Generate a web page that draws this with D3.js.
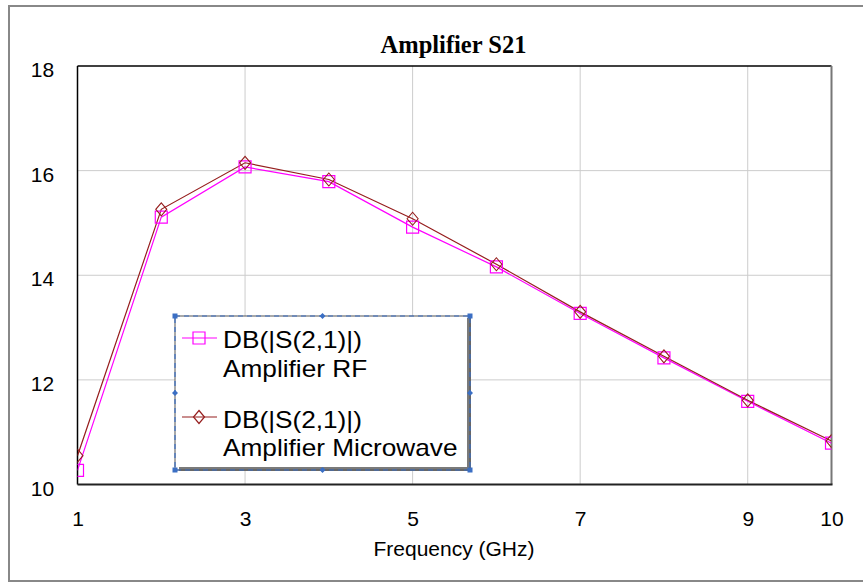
<!DOCTYPE html>
<html>
<head>
<meta charset="utf-8">
<script src="https://cdn.jsdelivr.net/npm/d3@7"></script>
<style>
  body { margin: 0; background: #fff; }
</style>
</head>
<body>
<div id="chart"></div>
<script>

const freqs = [1, 2, 3, 4, 5, 6, 7, 8, 9, 10];
const rfData = [10.27, 15.11, 16.07, 15.79, 14.92, 14.16, 13.27, 12.42, 11.59, 10.79];
const mwData = [10.55, 15.26, 16.15, 15.83, 15.08, 14.21, 13.30, 12.45, 11.61, 10.83];

const xTicks = [1, 3, 5, 7, 9, 10];
const yTicks = [10, 12, 14, 16, 18];
const legendLabels = [
  ['DB(|S(2,1)|)', 'Amplifier RF'],
  ['DB(|S(2,1)|)', 'Amplifier Microwave']
];

const width = 863;
const height = 582;
const plotLeft = 77.5, plotRight = 831.5, plotTop = 66, plotBottom = 484.5;
const rfColor = '#ff00ff';
const mwColor = '#961e1e';
const handleColor = '#3b6fc4';

let svg = d3.select('#chart').append('svg')
  .attr('width', width)
  .attr('height', height);

// outer frame (runs off the right edge)
svg.append('rect')
  .attr('x', 9).attr('y', 6)
  .attr('width', 900).attr('height', 575)
  .attr('fill', 'none')
  .attr('stroke', '#888')
  .attr('stroke-width', 2);

let x = d3.scaleLinear().domain([1, 10]).range([plotLeft, plotRight]);
let y = d3.scaleLinear().domain([10, 18]).range([plotBottom, plotTop]);

// grid
svg.append('g').selectAll('line')
  .data(xTicks.slice(1, -1))
  .join('line')
  .attr('x1', d => x(d)).attr('x2', d => x(d))
  .attr('y1', plotTop).attr('y2', plotBottom)
  .attr('stroke', '#cccccc').attr('stroke-width', 1);

svg.append('g').selectAll('line')
  .data(yTicks.slice(1, -1))
  .join('line')
  .attr('x1', plotLeft).attr('x2', plotRight)
  .attr('y1', d => y(d)).attr('y2', d => y(d))
  .attr('stroke', '#cccccc').attr('stroke-width', 1);

// plot frame
svg.append('line')
  .attr('x1', plotLeft).attr('x2', plotRight).attr('y1', plotTop).attr('y2', plotTop)
  .attr('stroke', '#000').attr('stroke-width', 1.5);
svg.append('line')
  .attr('x1', plotLeft).attr('x2', plotLeft).attr('y1', plotTop).attr('y2', plotBottom)
  .attr('stroke', '#000').attr('stroke-width', 1.5);
svg.append('line')
  .attr('x1', plotRight).attr('x2', plotRight).attr('y1', plotTop).attr('y2', plotBottom)
  .attr('stroke', '#777').attr('stroke-width', 2);
svg.append('line')
  .attr('x1', plotLeft).attr('x2', plotRight + 1).attr('y1', plotBottom).attr('y2', plotBottom)
  .attr('stroke', '#222').attr('stroke-width', 2);

// axes labels through d3 axes
let xAxis = svg.append('g')
  .attr('transform', 'translate(0,' + plotBottom + ')')
  .call(d3.axisBottom(x).tickValues(xTicks).tickSize(0).tickPadding(0).tickFormat(d3.format('d')));
xAxis.select('.domain').remove();
xAxis.selectAll('text')
  .attr('dy', null)
  .attr('y', 41.5)
  .attr('fill', '#000')
  .attr('font-size', 21)
  .attr('font-family', 'Liberation Sans, Arial, sans-serif');

let yAxis = svg.append('g')
  .attr('transform', 'translate(' + plotLeft + ',0)')
  .call(d3.axisLeft(y).tickValues(yTicks).tickSize(0).tickPadding(0).tickFormat(d3.format('d')));
yAxis.select('.domain').remove();
yAxis.selectAll('text')
  .attr('dy', null)
  .attr('x', -35)
  .attr('y', 10.5)
  .attr('text-anchor', 'middle')
  .attr('fill', '#000')
  .attr('font-size', 21)
  .attr('font-family', 'Liberation Sans, Arial, sans-serif');

// title
svg.append('text')
  .text('Amplifier S21')
  .attr('x', (plotLeft + plotRight) / 2 - 1)
  .attr('y', 53)
  .attr('text-anchor', 'middle')
  .attr('font-size', 24.5)
  .attr('font-weight', 'bold')
  .attr('font-family', 'Liberation Serif, Times New Roman, serif');

svg.append('text')
  .text('Frequency (GHz)')
  .attr('x', 454)
  .attr('y', 556)
  .attr('text-anchor', 'middle')
  .attr('font-size', 21)
  .attr('font-family', 'Liberation Sans, Arial, sans-serif');

// data
svg.append('clipPath').attr('id', 'plotClip')
  .append('rect')
  .attr('x', plotLeft).attr('y', plotTop)
  .attr('width', plotRight - plotLeft).attr('height', plotBottom - plotTop);

let plot = svg.append('g').attr('clip-path', 'url(#plotClip)');

let makeLine = d3.line()
  .x((d, i) => x(freqs[i]))
  .y(d => y(d));

let squareSymbol = d3.symbol().type(d3.symbolSquare).size(144);

function diamondPath(w, h) {
  return 'M0,' + (-h) + 'L' + w + ',0L0,' + h + 'L' + (-w) + ',0Z';
}

plot.append('path')
  .attr('d', makeLine(rfData))
  .attr('fill', 'none')
  .attr('stroke', rfColor)
  .attr('stroke-width', 1.2);

plot.append('path')
  .attr('d', makeLine(mwData))
  .attr('fill', 'none')
  .attr('stroke', mwColor)
  .attr('stroke-width', 1.2);

plot.append('g').selectAll('path')
  .data(rfData)
  .join('path')
  .attr('transform', (d, i) => 'translate(' + x(freqs[i]) + ',' + y(d) + ')')
  .attr('d', squareSymbol)
  .attr('fill', 'none')
  .attr('stroke', rfColor)
  .attr('stroke-width', 1.2);

plot.append('g').selectAll('path')
  .data(mwData)
  .join('path')
  .attr('transform', (d, i) => 'translate(' + x(freqs[i]) + ',' + y(d) + ')')
  .attr('d', diamondPath(5.5, 6.5))
  .attr('fill', 'none')
  .attr('stroke', mwColor)
  .attr('stroke-width', 1.1);

// legend
let lx0 = 175, ly0 = 316, lx1 = 470, ly1 = 470;
let legend = svg.append('g');

legend.append('rect')
  .attr('x', lx0).attr('y', ly0)
  .attr('width', lx1 - lx0).attr('height', ly1 - ly0)
  .attr('fill', '#fff');

// shadow
legend.append('path')
  .attr('d', 'M' + (lx1 - 1) + ',' + (ly0 + 2) + 'V' + (ly1 - 1) + 'H' + (lx0 + 4))
  .attr('fill', 'none')
  .attr('stroke', '#7a7a7a')
  .attr('stroke-width', 4);

legend.append('rect')
  .attr('x', lx0).attr('y', ly0)
  .attr('width', lx1 - lx0).attr('height', ly1 - ly0)
  .attr('fill', 'none')
  .attr('stroke', '#555')
  .attr('stroke-width', 1);

legend.append('rect')
  .attr('x', lx0).attr('y', ly0)
  .attr('width', lx1 - lx0).attr('height', ly1 - ly0)
  .attr('fill', 'none')
  .attr('stroke', handleColor)
  .attr('stroke-width', 1.2)
  .attr('stroke-dasharray', '5,4');

// selection handles
let corners = [[lx0, ly0], [lx1, ly0], [lx0, ly1], [lx1, ly1]];
legend.append('g').selectAll('rect')
  .data(corners)
  .join('rect')
  .attr('x', d => d[0] - 2.5).attr('y', d => d[1] - 2.5)
  .attr('width', 5).attr('height', 5)
  .attr('fill', handleColor);

let mids = [[(lx0 + lx1) / 2, ly0], [(lx0 + lx1) / 2, ly1], [lx0, (ly0 + ly1) / 2], [lx1, (ly0 + ly1) / 2]];
legend.append('g').selectAll('path')
  .data(mids)
  .join('path')
  .attr('transform', d => 'translate(' + d[0] + ',' + d[1] + ')')
  .attr('d', diamondPath(3, 3))
  .attr('fill', handleColor);

let entryY = [338, 417];
let entryColors = [rfColor, mwColor];
let textBase = [[348, 377], [428, 456]];

for (let i = 0; i < legendLabels.length; i++) {
  legend.append('line')
    .attr('x1', 182).attr('x2', 217)
    .attr('y1', entryY[i]).attr('y2', entryY[i])
    .attr('stroke', entryColors[i])
    .attr('stroke-width', 1.2);

  legend.append('path')
    .attr('transform', 'translate(199,' + entryY[i] + ')')
    .attr('d', i === 0 ? squareSymbol() : diamondPath(5.5, 6.5))
    .attr('fill', 'none')
    .attr('stroke', entryColors[i])
    .attr('stroke-width', 1.2);

  for (let k = 0; k < 2; k++) {
    legend.append('text')
      .text(legendLabels[i][k])
      .attr('transform', 'translate(223,' + textBase[i][k] + ') scale(1.14,1)')
      .attr('font-size', 23)
      .attr('font-family', 'Liberation Sans, Arial, sans-serif');
  }
}
</script>
</body>
</html>
